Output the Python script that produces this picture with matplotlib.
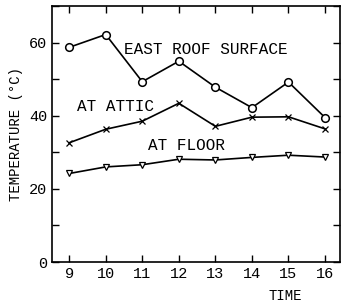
import numpy as np
import matplotlib
matplotlib.use("Agg")
import matplotlib.pyplot as plt
from matplotlib.ticker import MultipleLocator

hours = [9, 10, 11, 12, 13, 14, 15, 16]
roof = [58.7, 62.2, 49.3, 54.9, 47.8, 42.2, 49.2, 39.5]
attic = [32.6, 36.3, 38.5, 43.4, 37.1, 39.6, 39.7, 36.4]
floor = [24.2, 26.0, 26.6, 28.1, 27.9, 28.6, 29.2, 28.7]

plt.rcParams["font.family"] = ["Liberation Mono", "DejaVu Sans"]

fig = plt.figure(figsize=(3.41, 3.05), dpi=100)
ax = fig.add_axes([52 / 341, 1 - 262 / 305, 288 / 341, 256 / 305])

kw = dict(color="black", linewidth=1.2, markerfacecolor="white", markeredgecolor="black")
ax.plot(hours, roof, marker="o", markersize=5.5, markeredgewidth=1.1, **kw)
ax.plot(hours, attic, marker="x", markersize=4, markeredgewidth=0.9, **kw)
ax.plot(hours, floor, marker="v", markersize=4.5, markeredgewidth=0.9, **kw)

ax.text(12.74, 58.2, "EAST ROOF SURFACE", fontsize=11.5, ha="center", va="center")
ax.text(10.27, 42.4, "AT ATTIC", fontsize=11.5, ha="center", va="center")
ax.text(12.22, 31.9, "AT FLOOR", fontsize=11.5, ha="center", va="center")

ax.set_xlim(8.53, 16.41)
ax.set_ylim(0, 70)
ax.set_xticks(hours)
ax.yaxis.set_major_locator(MultipleLocator(20))
ax.yaxis.set_minor_locator(MultipleLocator(10))
ax.tick_params(which="both", direction="in", top=True, right=True, labelsize=11, width=1.0)
ax.tick_params(which="major", length=5)
ax.tick_params(which="minor", length=5)
for s in ax.spines.values():
    s.set_linewidth(1.2)

ax.set_ylabel("TEMPERATURE (°C)", fontsize=10, labelpad=4)
fig.text(285 / 341, 1 - 296 / 305, "TIME", fontsize=10, ha="center", va="center")

fig.savefig("out.png", dpi=100)
